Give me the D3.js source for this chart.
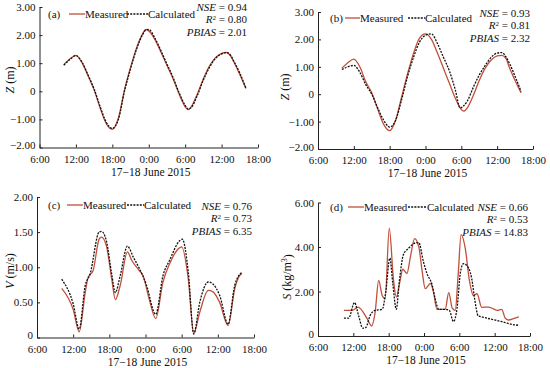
<!DOCTYPE html>
<html>
<head>
<meta charset="utf-8">
<script src="https://cdn.jsdelivr.net/npm/d3@7"></script>
<style>
  body { margin: 0; background: #fff; }
  svg text { font-family: "Liberation Serif", "Times New Roman", serif; fill: #111; }
</style>
</head>
<body>
<div id="chart"></div>
<script>
// time in hours from 0:00 on 17 June
const xTicks = [6, 12, 18, 24, 30, 36, 42];
const xTickLabels = ["6:00", "12:00", "18:00", "0:00", "6:00", "12:00", "18:00"];

// (a) water level, Z (m)
const aHours = [10,11,12,13,14,15,16,17,18,19,20,21,22,23,23.5,24,25,26,27,28,29,30,30.5,31,32,33,34,35,36,36.8,37.5,38,39,40];
const aMeasured = [0.95,1.15,1.28,1.02,0.55,0.05,-0.6,-1.15,-1.35,-0.95,0.05,0.85,1.55,2.05,2.2,2.15,1.85,1.4,0.92,0.45,-0.1,-0.55,-0.65,-0.55,-0.1,0.45,0.9,1.2,1.35,1.38,1.25,1.05,0.6,0.1];
const aCalculated = [0.93,1.13,1.27,1.04,0.58,0.08,-0.55,-1.1,-1.32,-1.0,0.0,0.8,1.5,2.02,2.18,2.2,1.9,1.45,0.97,0.5,-0.05,-0.5,-0.63,-0.58,-0.15,0.4,0.85,1.17,1.33,1.38,1.28,1.08,0.65,0.12];

// (b) water level, Z (m)
const bHours = [10,11,12,13,14,15,16,17,18,19,20,21,22,23,24,25,26,27,28,29,29.8,30.4,31,32,33,34,35,36,36.8,37.5,38,39,40];
const bMeasured = [0.95,1.15,1.28,1.0,0.45,0.05,-0.55,-1.1,-1.33,-0.95,-0.1,0.75,1.5,2.05,2.2,2.0,1.5,0.95,0.4,-0.15,-0.5,-0.62,-0.5,-0.05,0.5,0.95,1.25,1.4,1.42,1.3,1.0,0.5,0.05];
const bCalculated = [0.9,1.0,1.05,0.8,0.35,0.0,-0.5,-0.95,-1.2,-0.95,-0.2,0.65,1.35,1.9,2.15,2.2,1.85,1.35,0.85,0.15,-0.5,-0.42,-0.25,0.25,0.7,1.05,1.35,1.5,1.52,1.35,1.15,0.65,0.1];

// (c) velocity, V (m/s)
const cHoursM = [10.1,12,13,14,14.5,15.3,16.3,16.7,17.5,18.4,19,19.8,21,21.7,23,23.6,24.6,25.7,26.9,28,29.7,30,31.1,32,33,34.4,35.2,36.3,37.7,38.8,39.6,40];
const cMeasured = [0.70,0.40,0.08,0.64,0.86,0.95,1.40,1.43,1.31,0.83,0.54,0.74,1.22,1.10,0.95,0.88,0.55,0.27,0.79,1.05,1.28,1.29,0.83,0.06,0.36,0.67,0.65,0.50,0.17,0.69,0.88,0.91];
const cHoursC = [10.1,12,13,14,14.8,16.3,16.7,17.5,18.4,19,19.8,21,22,23,24.1,25.7,26.9,28,29.7,30.1,31.1,32,33,34.4,35.2,36.3,37.7,38.8,40];
const cCalculated = [0.83,0.48,0.12,0.74,0.90,1.50,1.51,1.38,0.90,0.64,0.88,1.30,1.14,0.98,0.76,0.33,0.88,1.10,1.38,1.40,0.93,0.05,0.50,0.79,0.76,0.60,0.19,0.74,0.93];

// (d) sediment concentration, S (kg/m3)
const dHoursM = [10.4,11.8,12.8,14.3,15.1,15.7,16.3,16.9,17.4,18.1,18.8,19.3,19.9,20.4,21.1,21.7,22.4,23.1,23.7,24.2,25.1,25.6,26.2,27.1,27.6,28.2,28.8,29.3,29.8,30.3,31,31.7,32.4,33,33.8,34.9,35.8,36.4,37.2,37.8,38.4,39.2,40.1];
const dMeasured = [1.15,1.15,1.3,0.8,0.45,1.06,2.5,1.82,1.67,4.85,2.58,1.75,2.43,3.0,2.81,3.57,4.38,4.03,2.89,2.13,2.36,1.98,1.2,1.2,1.2,1.95,1.25,1.15,2.74,4.56,3.95,2.51,1.82,1.9,1.29,1.3,1.22,1.15,1.2,0.8,0.72,0.78,0.86];
const dHoursC = [10.4,11.2,12.2,12.9,13.6,14.1,14.9,15.7,16.9,17.5,18.2,18.7,19.3,19.8,20.5,21.4,22.5,23.1,23.9,24.5,25.4,25.9,26.5,27.6,28.3,29,29.6,30.2,30.7,31.6,32.1,32.6,33.2,34.1,35.3,36.4,37.8,39,40.1];
const dCalculated = [0.8,0.8,1.5,0.91,0.35,0.38,0.95,1.15,1.2,1.98,3.5,2.36,1.2,2.43,3.65,3.95,4.18,4.2,3.34,2.81,2.28,1.67,1.2,1.2,1.15,0.65,1.22,2.89,3.25,3.04,2.58,1.67,0.91,0.84,0.76,0.7,0.6,0.52,0.48];

const measuredColor = "#c0503c";
const serif = "Liberation Serif, Times New Roman, serif";

const svg = d3.select("#chart").append("svg")
  .attr("width", 550)
  .attr("height", 368);

function drawPanel(p) {
  const x = d3.scaleLinear().domain([6, 42]).range(p.xRange);
  const y = d3.scaleLinear().domain(p.yDomain).range(p.yRange);
  const g = svg.append("g");

  const xAxis = g.append("g")
    .attr("transform", `translate(0, ${p.yRange[0]})`)
    .call(d3.axisBottom(x).tickValues(xTicks).tickSize(-3).tickSizeOuter(0)
      .tickFormat((d, i) => xTickLabels[i]))
    .attr("font-family", serif);
  xAxis.selectAll("text").attr("dy", null).attr("y", 15).attr("font-size", "11px");

  const yAxis = g.append("g")
    .attr("transform", `translate(${p.xRange[0]}, 0)`)
    .call(d3.axisLeft(y).tickValues(p.yTicks).tickSize(-3).tickSizeOuter(0)
      .tickFormat(d => d === 0 ? "0" : d3.format(".2f")(d)))
    .attr("font-family", serif);
  yAxis.selectAll("text").attr("x", -4).attr("font-size", "11px");
  // the bottom "0" sits a little above the axis, clear of the first time label
  yAxis.selectAll(".tick").filter(d => d === p.yDomain[0]).select("text").attr("dy", "0.1em");
  g.selectAll(".domain, .tick line").attr("stroke", "#222");

  g.append("text")
    .attr("x", (p.xRange[0] + p.xRange[1]) / 2 + 2)
    .attr("y", p.yRange[0] + 28)
    .attr("text-anchor", "middle")
    .attr("font-size", "11.5px")
    .text("17\u221218 June 2015");

  const yl = g.append("text")
    .attr("transform", `translate(${p.yLabelPos[0]}, ${p.yLabelPos[1]}) rotate(-90)`)
    .attr("text-anchor", "middle")
    .attr("dy", "0.35em")
    .attr("font-size", "12px");
  yl.append("tspan").attr("font-style", "italic").text(p.yVar);
  yl.append("tspan").text(p.yUnit);
  if (p.yUnitSup) {
    yl.append("tspan").attr("font-size", "8px").attr("dy", "-0.5em").text(p.yUnitSup);
    yl.append("tspan").attr("dy", "0.4em").text(")");
  }

  const line = d3.line()
    .x(d => x(d[0]))
    .y(d => y(d[1]))
    .curve(d3.curveMonotoneX);

  g.append("path")
    .datum(d3.zip(p.hoursM, p.measured))
    .attr("fill", "none")
    .attr("stroke", measuredColor)
    .attr("stroke-width", 1.3)
    .attr("d", line);

  g.append("path")
    .datum(d3.zip(p.hoursC, p.calculated))
    .attr("fill", "none")
    .attr("stroke", "#111")
    .attr("stroke-width", 1.3)
    .attr("stroke-dasharray", "2,1.2")
    .attr("d", line);

  // legend
  const lx = p.legend;
  g.append("text").attr("x", lx.label).attr("y", lx.y + 4).attr("font-size", "11px").text(p.tag);
  g.append("line").attr("x1", lx.m[0]).attr("x2", lx.m[1]).attr("y1", lx.y).attr("y2", lx.y)
    .attr("stroke", measuredColor).attr("stroke-width", 1.3);
  g.append("text").attr("x", lx.m[1]).attr("y", lx.y + 4).attr("font-size", "11px").text("Measured");
  g.append("line").attr("x1", lx.c[0]).attr("x2", lx.c[1]).attr("y1", lx.y).attr("y2", lx.y)
    .attr("stroke", "#111").attr("stroke-width", 1.3).attr("stroke-dasharray", "2,1.2");
  g.append("text").attr("x", lx.c[1]).attr("y", lx.y + 4).attr("font-size", "11px").text("Calculated");

  // statistics
  const st = p.stats;
  const s1 = g.append("text").attr("x", st.x).attr("y", st.y).attr("text-anchor", "end").attr("font-size", "11px");
  s1.append("tspan").attr("font-style", "italic").text("NSE");
  s1.append("tspan").text(" = " + p.values[0]);
  const s2 = g.append("text").attr("x", st.x).attr("y", st.y + 12.3).attr("text-anchor", "end").attr("font-size", "11px");
  s2.append("tspan").attr("font-style", "italic").text("R");
  s2.append("tspan").attr("font-size", "7px").attr("dy", "-0.5em").text("2");
  s2.append("tspan").attr("dy", "0.3em").text(" = " + p.values[1]);
  const s3 = g.append("text").attr("x", st.x).attr("y", st.y + 24.6).attr("text-anchor", "end").attr("font-size", "11px");
  s3.append("tspan").attr("font-style", "italic").text("PBIAS");
  s3.append("tspan").text(" = " + p.values[2]);
}

drawPanel({
  tag: "(a)", xRange: [39.5, 258], yDomain: [-2, 3], yRange: [147.5, 7], yTicks: [-2, -1, 0, 1, 2, 3],
  yVar: "Z", yUnit: " (m)", yLabelPos: [10, 80],
  hoursM: aHours, measured: aMeasured, hoursC: aHours, calculated: aCalculated,
  legend: { label: 48, y: 14, m: [69, 85], c: [127, 148] },
  stats: { x: 247, y: 11 }, values: ["0.94", "0.80", "2.01"]
});

drawPanel({
  tag: "(b)", xRange: [318, 533], yDomain: [-2, 3], yRange: [149, 12], yTicks: [-2, -1, 0, 1, 2, 3],
  yVar: "Z", yUnit: " (m)", yLabelPos: [285, 87],
  hoursM: bHours, measured: bMeasured, hoursC: bHours, calculated: bCalculated,
  legend: { label: 330, y: 18, m: [345, 360], c: [408, 425] },
  stats: { x: 530, y: 17 }, values: ["0.93", "0.81", "2.32"]
});

drawPanel({
  tag: "(c)", xRange: [37, 254], yDomain: [0, 2], yRange: [337.5, 197], yTicks: [0, 0.5, 1, 1.5, 2],
  yVar: "V", yUnit: " (m/s)", yLabelPos: [10, 271],
  hoursM: cHoursM, measured: cMeasured, hoursC: cHoursC, calculated: cCalculated,
  legend: { label: 48, y: 205, m: [67, 83], c: [127, 144] },
  stats: { x: 252, y: 210 }, values: ["0.76", "0.73", "6.35"]
});

drawPanel({
  tag: "(d)", xRange: [318, 530], yDomain: [0, 6], yRange: [336, 202.5], yTicks: [0, 2, 4, 6],
  yVar: "S", yUnit: " (kg/m", yUnitSup: "3", yLabelPos: [287, 277],
  hoursM: dHoursM, measured: dMeasured, hoursC: dHoursC, calculated: dCalculated,
  legend: { label: 330, y: 207, m: [348, 364], c: [408, 427] },
  stats: { x: 528, y: 211 }, values: ["0.66", "0.53", "14.83"]
});
</script>
</body>
</html>
